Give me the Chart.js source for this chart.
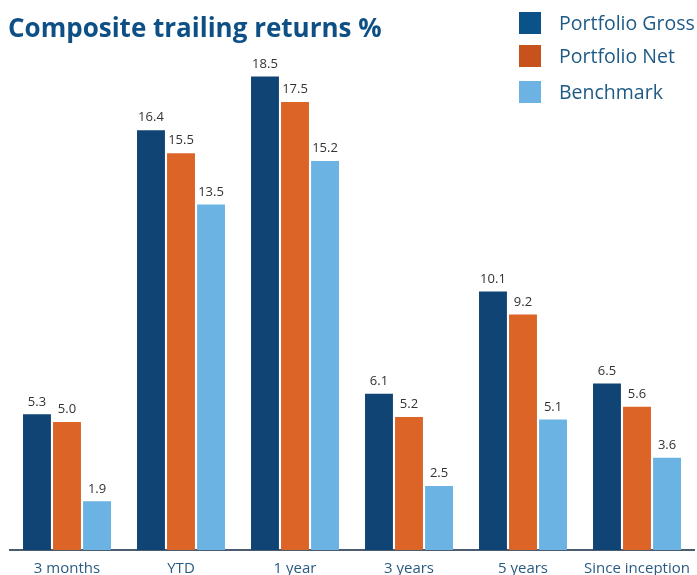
<!DOCTYPE html>
<html>
<head>
<meta charset="utf-8">
<script src="https://cdn.jsdelivr.net/npm/chart.js@4.4.1/dist/chart.umd.min.js"></script>
<style>
  body { margin: 0; background: #fff; }
  #wrap { width: 697px; height: 575px; position: relative; }
</style>
</head>
<body>
<div id="wrap"><canvas id="returnsChart"></canvas></div>
<script>
// data
const categories = ['3 months', 'YTD', '1 year', '3 years', '5 years', 'Since inception'];
const grossValues = [5.3, 16.4, 18.5, 6.1, 10.1, 6.5];
const netValues = [5.0, 15.5, 17.5, 5.2, 9.2, 5.6];
const benchmarkValues = [1.9, 13.5, 15.2, 2.5, 5.1, 3.6];
const seriesNames = ['Portfolio Gross', 'Portfolio Net', 'Benchmark'];

const barColors = ['#0f4474', '#dd6427', '#6bb3e3'];
const legendColors = ['#0b5288', '#c8521b', '#6cb3e3'];
const titleText = 'Composite trailing returns %';

// title, legend and value labels drawn on the canvas
const decorations = {
    id: 'decorations',
    afterDatasetsDraw(chart) {
        const ctx = chart.ctx;
        ctx.save();
        ctx.fillStyle = '#333333';
        ctx.font = '13px "Open Sans", sans-serif';
        ctx.textAlign = 'center';
        ctx.textBaseline = 'bottom';
        chart.data.datasets.forEach((ds, i) => {
            chart.getDatasetMeta(i).data.forEach((bar, j) => {
                ctx.fillText(ds.data[j].toFixed(1), bar.x, bar.y - 6);
            });
        });
        ctx.restore();
    },
    afterDraw(chart) {
        const ctx = chart.ctx;
        ctx.save();
        // title
        ctx.fillStyle = '#0e5085';
        ctx.font = 'bold 26px "Open Sans", sans-serif';
        ctx.textAlign = 'left';
        ctx.textBaseline = 'alphabetic';
        ctx.fillText(titleText, 8, 37);

        // legend
        const tops = [12, 45, 81];
        ctx.font = '19.5px "Open Sans", sans-serif';
        ctx.textBaseline = 'middle';
        seriesNames.forEach((name, i) => {
            ctx.fillStyle = legendColors[i];
            ctx.fillRect(519, tops[i], 22, 22);
            ctx.fillStyle = '#1d5a86';
            ctx.fillText(name, 559, tops[i] + 12);
        });
        ctx.restore();
    }
};

new Chart(document.getElementById('returnsChart'), {
    type: 'bar',
    data: {
        labels: categories,
        datasets: [
            { label: seriesNames[0], data: grossValues, backgroundColor: barColors[0] },
            { label: seriesNames[1], data: netValues, backgroundColor: barColors[1] },
            { label: seriesNames[2], data: benchmarkValues, backgroundColor: barColors[2] }
        ]
    },
    options: {
        responsive: true,
        maintainAspectRatio: false,
        animation: false,
        categoryPercentage: 0.79,
        barPercentage: 0.93,
        layout: { padding: { top: 38, left: 10, right: 3, bottom: -13 } },
        plugins: {
            legend: { display: false },
            title: { display: false },
            tooltip: { enabled: false }
        },
        scales: {
            y: {
                display: false,
                min: 0,
                max: 20
            },
            x: {
                grid: { display: false, drawTicks: false },
                border: { display: true, color: '#4b5b70', width: 2 },
                // let the last label run past the edge like the original
                afterFit(scale) {
                    scale.paddingLeft = 0;
                    scale.paddingRight = 0;
                },
                ticks: {
                    color: '#2b5a80',
                    font: { size: 15, family: '"Open Sans", sans-serif', lineHeight: 1.2 },
                    padding: 10,
                    maxRotation: 0,
                    autoSkip: false
                }
            }
        }
    },
    plugins: [decorations]
});
</script>
</body>
</html>
